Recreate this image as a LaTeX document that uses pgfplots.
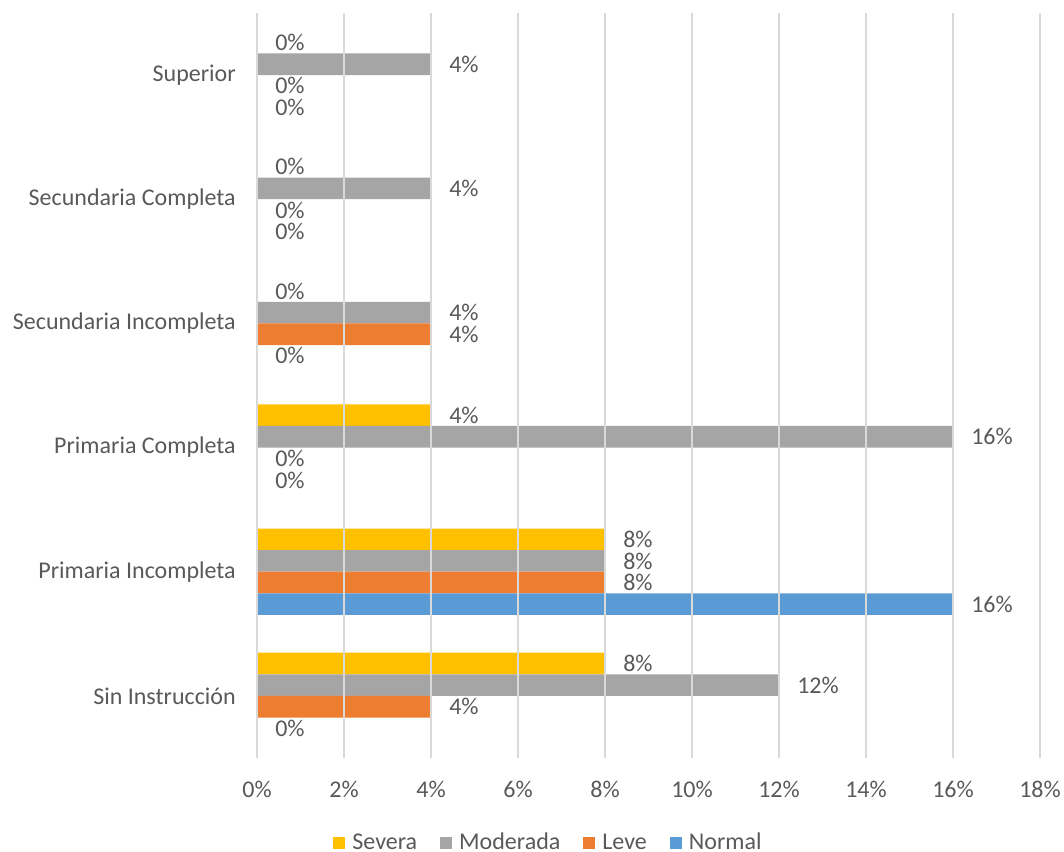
\documentclass[border=0pt]{standalone}
\usepackage{pgfplots}
\pgfplotsset{compat=1.18}
\usepackage{pgfplotstable}
\usepackage{fontspec}
\setmainfont{Carlito}
\definecolor{cSev}{HTML}{FFC000}
\definecolor{cMod}{HTML}{A5A5A5}
\definecolor{cLev}{HTML}{ED7D31}
\definecolor{cNor}{HTML}{5B9BD5}
\definecolor{txt}{HTML}{595959}
\definecolor{grd}{HTML}{D9D9D9}
\newcommand\cf{\fontsize{18}{21}\selectfont}
\pgfplotsset{sq/.style={fill=#1, draw=none, legend image code/.code={\fill[#1] (0pt,-4.5pt) rectangle (9pt,4.5pt);}}}
\pgfplotstableread{
y sev mod lev nor
0 8 12 4 0
1 8 8 8 16
2 4 16 0 0
3 0 4 4 0
4 0 4 0 0
5 0 4 0 0
}\datatable
\begin{document}
\begin{tikzpicture}
\useasboundingbox (-192.75pt,-70.5pt) rectangle (605.25pt,568.5pt);
\begin{axis}[
  at={(0,0)}, anchor=south west,
  scale only axis, width=587.25pt, height=558.75pt,
  xbar, bar width=16.2pt,
  xmin=0, xmax=18, ymin=-0.5, ymax=5.5,
  xtick={0,2,...,18},
  xticklabel={\pgfmathprintnumber{\tick}\%},
  ytick={0,...,5},
  yticklabels={Sin Instrucción, Primaria Incompleta, Primaria Completa, Secundaria Incompleta, Secundaria Completa, Superior},
  /pgf/number format/assume math mode=true,
  axis on top,
  axis line style={draw=none},
  major tick length=0pt,
  tick style={draw=none},
  xmajorgrids, ymajorgrids=false,
  grid style={color=grd, line width=1pt},
  xticklabel style={font=\cf, text=txt, inner sep=0pt, anchor=base, yshift=-29.5pt},
  yticklabel style={font=\cf, text=txt, inner sep=0pt, anchor=east, xshift=-15.75pt},
  nodes near coords={\pgfmathprintnumber{\pgfplotspointmeta}\%},
  nodes near coords style={font=\cf, text=txt, anchor=west, inner sep=0pt, xshift=13.5pt},
  clip=false,
  legend style={at={(0.371,-0.1136)}, anchor=center, draw=none, fill=none,
    legend columns=4, font=\cf, text=txt, nodes={inner sep=0pt},
    /tikz/every odd column/.append style={column sep=5.25pt},
    /tikz/every even column/.append style={column sep=17.25pt}},
]
\addplot[sq=cSev, bar shift=24.3pt] table[x=sev, y=y] {\datatable};
\addplot[sq=cMod, bar shift=8.1pt] table[x=mod, y=y] {\datatable};
\addplot[sq=cLev, bar shift=-8.1pt] table[x=lev, y=y] {\datatable};
\addplot[sq=cNor, bar shift=-24.3pt] table[x=nor, y=y] {\datatable};
\legend{Severa, Moderada, Leve, Normal}
\end{axis}
\end{tikzpicture}
\end{document}
